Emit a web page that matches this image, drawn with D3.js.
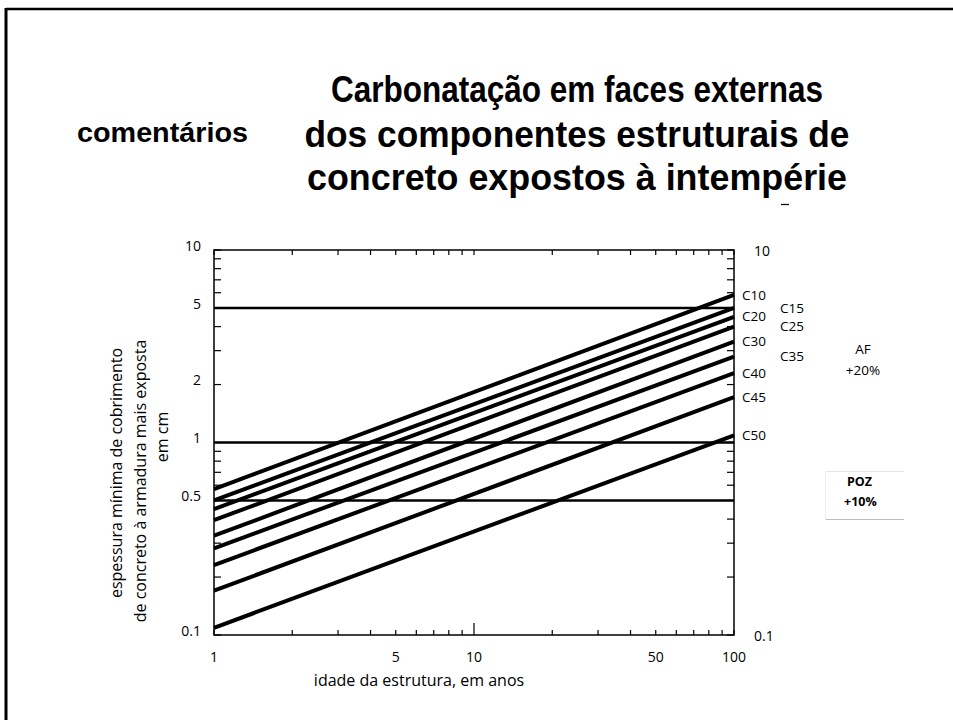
<!DOCTYPE html>
<html>
<head>
<meta charset="utf-8">
<script src="https://cdn.jsdelivr.net/npm/d3@7"></script>
<style>
  html, body { margin: 0; padding: 0; background: #fff; }
  svg { display: block; }
</style>
</head>
<body>
<svg id="chart" width="953" height="720"></svg>
<script>
// ---------- data ----------
const titleLines = [
  "Carbonatação em faces externas",
  "dos componentes estruturais de",
  "concreto expostos à intempérie"
];
const sideNote = "comentários";
const classes = ["C10", "C15", "C20", "C25", "C30", "C35", "C40", "C45", "C50"];
const years = [1, 100];
const depthAtYear1 = [0.573, 0.500, 0.451, 0.395, 0.328, 0.282, 0.231, 0.170, 0.109];
const depthAtYear100 = [5.84, 5.00, 4.50, 4.00, 3.34, 2.79, 2.29, 1.72, 1.09];
const referenceDepths = [5, 1, 0.5];
const xTickLabels = [1, 5, 10, 50, 100];
const yTickLabelsLeft = [10, 5, 2, 1, 0.5, 0.1];
const yTickLabelsRight = [10, 0.1];
const yLabelLines = ["espessura mínima de cobrimento", "de concreto à armadura mais exposta", "em cm"];
const xLabel = "idade da estrutura, em anos";
const afNote = ["AF", "+20%"];
const pozNote = ["POZ", "+10%"];

// ---------- layout ----------
const svg = d3.select("#chart");
const X0 = 214, X1 = 734, Y0 = 250, Y1 = 635;
const x = d3.scaleLog().domain([1, 100]).range([X0, X1]);
const y = d3.scaleLog().domain([0.1, 10]).range([Y1, Y0]);
const bodyFont = "'Open Sans', 'DejaVu Sans', sans-serif";

// frame (top and left borders)
svg.append("line").attr("x1", 6).attr("x2", 953).attr("y1", 9).attr("y2", 9)
  .attr("stroke", "#000").attr("stroke-width", 2.5);
svg.append("line").attr("x1", 6).attr("x2", 6).attr("y1", 8).attr("y2", 720)
  .attr("stroke", "#000").attr("stroke-width", 3);

// title
const titleY = [102, 147, 190];
const titleW = [492, 545, 540];
titleLines.forEach((t, i) => {
  svg.append("text")
    .attr("x", 577).attr("y", titleY[i])
    .attr("text-anchor", "middle")
    .attr("font-family", "'Liberation Sans', Arial, sans-serif")
    .attr("font-weight", "bold")
    .attr("font-size", 37)
    .attr("textLength", titleW[i])
    .attr("lengthAdjust", "spacingAndGlyphs")
    .text(t);
});
svg.append("text")
  .attr("x", 77).attr("y", 142)
  .attr("font-family", "'Liberation Sans', Arial, sans-serif")
  .attr("font-weight", "bold")
  .attr("font-size", 28)
  .attr("textLength", 171)
  .attr("lengthAdjust", "spacingAndGlyphs")
  .text(sideNote);
// small stray dash below the title
svg.append("line").attr("x1", 781).attr("x2", 789).attr("y1", 204.5).attr("y2", 204.5)
  .attr("stroke", "#000").attr("stroke-width", 1.2);

// ---------- plot ----------
const g = svg.append("g");

// ticks
const xt = x.ticks();
const yt = y.ticks();
g.selectAll(".xtb").data(xt).join("line")
  .attr("x1", d => x(d)).attr("x2", d => x(d))
  .attr("y1", Y1).attr("y2", d => Y1 - (d === 10 ? 12 : 5))
  .attr("stroke", "#000").attr("stroke-width", 1.2);
g.selectAll(".xtt").data(xt).join("line")
  .attr("x1", d => x(d)).attr("x2", d => x(d))
  .attr("y1", Y0).attr("y2", Y0 + 5)
  .attr("stroke", "#000").attr("stroke-width", 1.2);
g.selectAll(".ytl").data(yt).join("line")
  .attr("x1", X0).attr("x2", X0 + 7)
  .attr("y1", d => y(d)).attr("y2", d => y(d))
  .attr("stroke", "#000").attr("stroke-width", 1.2);
g.selectAll(".ytr").data(yt).join("line")
  .attr("x1", X1).attr("x2", X1 - 7)
  .attr("y1", d => y(d)).attr("y2", d => y(d))
  .attr("stroke", "#000").attr("stroke-width", 1.2);

// horizontal reference lines
g.selectAll(".ref").data(referenceDepths).join("line")
  .attr("x1", X0).attr("x2", X1)
  .attr("y1", d => y(d)).attr("y2", d => y(d))
  .attr("stroke", "#000").attr("stroke-width", 2.5);

// carbonation lines
const lineGen = d3.line().x(d => x(d[0])).y(d => y(d[1]));
const series = classes.map((c, i) => ({
  name: c,
  pts: [[years[0], depthAtYear1[i]], [years[1], depthAtYear100[i]]]
}));
g.selectAll(".carb").data(series).join("path")
  .attr("d", d => lineGen(d.pts))
  .attr("fill", "none")
  .attr("stroke", "#000")
  .attr("stroke-width", 4);

// plot box
g.append("rect").attr("x", X0).attr("y", Y0)
  .attr("width", X1 - X0).attr("height", Y1 - Y0)
  .attr("fill", "none").attr("stroke", "#000").attr("stroke-width", 1.5);

// class labels
g.selectAll(".clab").data(series).join("text")
  .attr("x", (d, i) => (i % 2 === 1 && i < 7) ? 780 : 742)
  .attr("y", d => y(d.pts[1][1]))
  .attr("dy", "0.35em")
  .attr("font-family", bodyFont).attr("font-size", 13.5)
  .text(d => d.name);

// tick labels
g.selectAll(".xl").data(xTickLabels).join("text")
  .attr("x", d => x(d)).attr("y", 662)
  .attr("text-anchor", "middle")
  .attr("font-family", bodyFont).attr("font-size", 14)
  .text(d => d);
g.selectAll(".yl").data(yTickLabelsLeft).join("text")
  .attr("x", 201).attr("y", d => y(d) - 4)
  .attr("dy", "0.35em")
  .attr("text-anchor", "end")
  .attr("font-family", bodyFont).attr("font-size", 14)
  .text(d => d);
g.selectAll(".yr").data(yTickLabelsRight).join("text")
  .attr("x", 754).attr("y", d => y(d) + 1)
  .attr("dy", "0.35em")
  .attr("font-family", bodyFont).attr("font-size", 14)
  .text(d => d);

// axis titles
svg.append("text")
  .attr("x", 419).attr("y", 686)
  .attr("text-anchor", "middle")
  .attr("font-family", bodyFont).attr("font-size", 16)
  .text(xLabel);
const yLabX = [122, 146, 168];
const yLabY = [473, 481, 437];
yLabelLines.forEach((t, i) => {
  svg.append("text")
    .attr("transform", `translate(${yLabX[i]},${yLabY[i]}) rotate(-90)`)
    .attr("text-anchor", "middle")
    .attr("font-family", bodyFont).attr("font-size", 16)
    .text(t);
});

// AF / POZ notes
afNote.forEach((t, i) => {
  svg.append("text")
    .attr("x", 863).attr("y", 349 + i * 21).attr("dy", "0.35em")
    .attr("text-anchor", "middle")
    .attr("font-family", bodyFont).attr("font-size", 13.5)
    .text(t);
});
svg.append("line").attr("x1", 826).attr("x2", 904).attr("y1", 471.5).attr("y2", 471.5)
  .attr("stroke", "#e6e6e6").attr("stroke-width", 1);
svg.append("line").attr("x1", 826).attr("x2", 904).attr("y1", 519.5).attr("y2", 519.5)
  .attr("stroke", "#bbb").attr("stroke-width", 1);
svg.append("line").attr("x1", 825.5).attr("x2", 825.5).attr("y1", 471).attr("y2", 520)
  .attr("stroke", "#eee").attr("stroke-width", 1);
pozNote.forEach((t, i) => {
  svg.append("text")
    .attr("x", i === 0 ? 847 : 844).attr("y", 482 + i * 20).attr("dy", "0.35em")
    .attr("font-family", bodyFont).attr("font-size", 12.5)
    .attr("font-weight", "bold")
    .text(t);
});
</script>
</body>
</html>
